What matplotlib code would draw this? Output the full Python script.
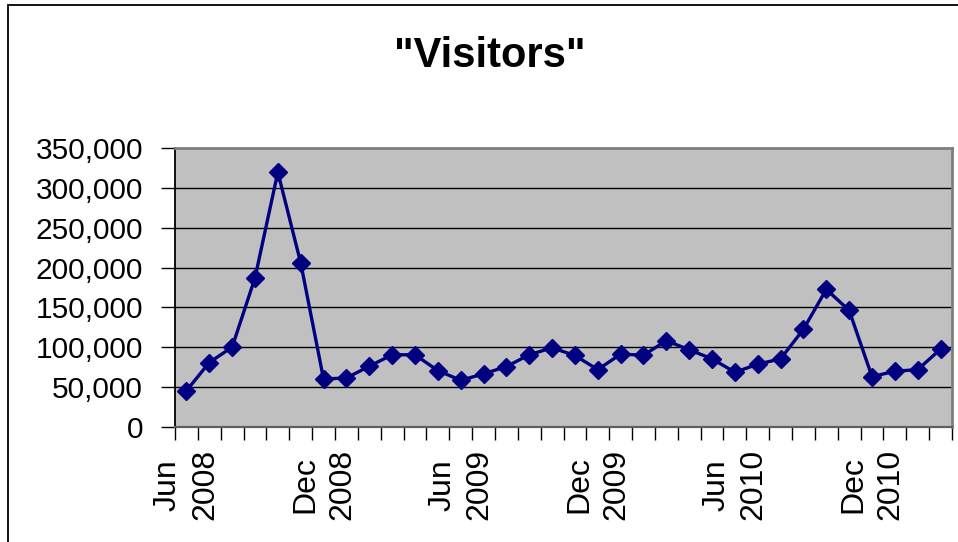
import matplotlib
matplotlib.use("Agg")
import matplotlib.pyplot as plt
from matplotlib.ticker import FuncFormatter, FixedLocator
from matplotlib.patches import Rectangle

months = ["Jun 2008", "Jul 2008", "Aug 2008", "Sep 2008", "Oct 2008", "Nov 2008",
          "Dec 2008", "Jan 2009", "Feb 2009", "Mar 2009", "Apr 2009", "May 2009",
          "Jun 2009", "Jul 2009", "Aug 2009", "Sep 2009", "Oct 2009", "Nov 2009",
          "Dec 2009", "Jan 2010", "Feb 2010", "Mar 2010", "Apr 2010", "May 2010",
          "Jun 2010", "Jul 2010", "Aug 2010", "Sep 2010", "Oct 2010", "Nov 2010",
          "Dec 2010", "Jan 2011", "Feb 2011", "Mar 2011"]
visitors = [45500, 80900, 100200, 187000, 319700, 206000, 60200, 61500, 76200,
            90600, 90600, 70800, 58600, 66600, 75800, 90600, 99400, 89700, 72000,
            91400, 90100, 108300, 96900, 85500, 68700, 78800, 85500, 122600,
            172700, 146200, 63200, 69900, 72000, 97700]
label_every = 6
y_ticks = [0, 50000, 100000, 150000, 200000, 250000, 300000, 350000]

W, H = 958, 542
fig = plt.figure(figsize=(W / 100, H / 100), dpi=100)
fig.patch.set_facecolor("white")
plt.rcParams['font.family'] = ['Liberation Sans', 'DejaVu Sans']

# outer chart frame
fig.patches.append(Rectangle((8 / W, -0.1), 1.2, 1 - 5 / H + 0.1,
                             transform=fig.transFigure, fill=False,
                             edgecolor="black", linewidth=1.3))

ax = fig.add_axes([175 / W, (H - 427) / H, 777 / W, 279 / H])
ax.set_facecolor("#C0C0C0")

x = list(range(len(visitors)))
ax.plot(x, visitors, color="#000080", linewidth=2.4, marker="D",
        markersize=9.5, markerfacecolor="#000080", markeredgecolor="#000080",
        zorder=3, clip_on=False)

ax.set_xlim(-0.5, len(visitors) - 0.5)
ax.set_ylim(0, 350000)

ax.set_yticks(y_ticks)
ax.yaxis.set_major_formatter(FuncFormatter(lambda v, p: f"{int(v):,}"))
ax.tick_params(axis="y", direction="out", length=10, width=1, color="black",
               labelsize=21.5, pad=13)
ax.yaxis.grid(True, color="black", linewidth=1)
ax.set_axisbelow(True)

major = [i for i in x if i % label_every == 0]
ax.xaxis.set_major_locator(FixedLocator(major))
ax.set_xticklabels([months[i].replace(" ", "\n") for i in major],
                   rotation=90, fontsize=23, ha="center", va="top",
                   multialignment="center", linespacing=1.3)
ax.tick_params(axis="x", which="major", length=0, pad=16)
ax.xaxis.set_minor_locator(FixedLocator([i - 0.5 for i in range(len(visitors) + 1)]))
ax.tick_params(axis="x", which="minor", direction="out", length=9, width=1,
               color="black")

for s in ["top", "right"]:
    ax.spines[s].set_color("#808080")
    ax.spines[s].set_linewidth(2)
ax.spines["left"].set_color("black")
ax.spines["left"].set_linewidth(1.3)
ax.spines["bottom"].set_color("#606060")
ax.spines["bottom"].set_linewidth(1.6)

fig.text(490 / W, 1 - 67 / H, '"Visitors"', fontsize=30, fontweight="bold",
         ha="center", va="baseline")

fig.savefig("out.png", dpi=100)
